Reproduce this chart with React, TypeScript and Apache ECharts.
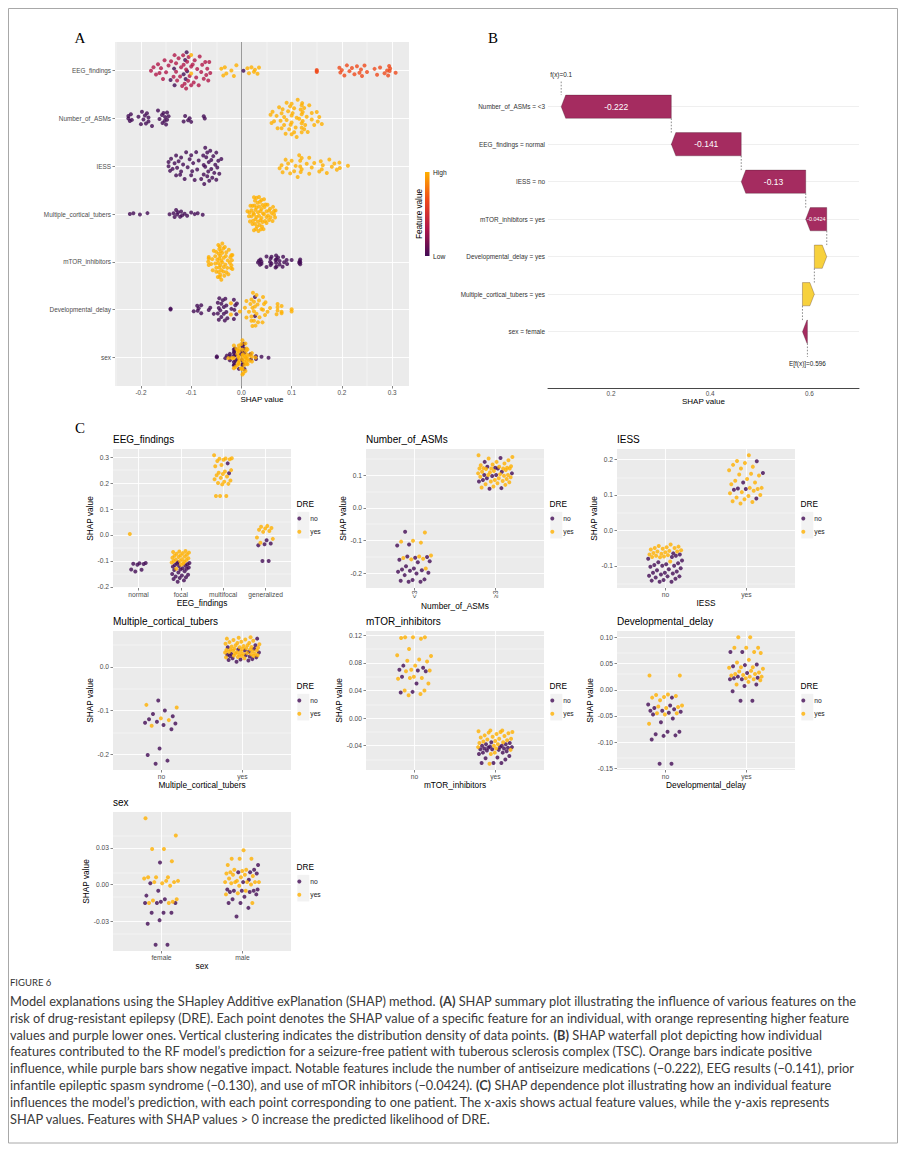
import React, { useEffect, useRef } from "react";
import * as echarts from "echarts";

// ================= DATA =================
// SHAP values per feature level, split by DRE outcome (no / yes)
const eegLevels = ["normal", "focal", "multifocal", "generalized"];
const eegNormalNo = [-0.108, -0.109, -0.111, -0.112, -0.115, -0.133, -0.134, -0.141];
const eegNormalYes = [0.004];
const eegFocalNo = [-0.105, -0.108, -0.11, -0.113, -0.116, -0.118, -0.12, -0.122, -0.125, -0.128, -0.13, -0.133, -0.135, -0.14, -0.145, -0.15, -0.153, -0.156, -0.16, -0.163, -0.166, -0.17, -0.175, -0.18];
const eegFocalYes = [-0.062, -0.064, -0.066, -0.068, -0.07, -0.072, -0.075, -0.078, -0.08, -0.083, -0.085, -0.088, -0.09, -0.093, -0.095, -0.097, -0.1, -0.1, -0.103, -0.106, -0.11, -0.115, -0.13];
const eegMultifocalNo = [0.276, 0.238];
const eegMultifocalYes = [0.307, 0.296, 0.295, 0.294, 0.292, 0.29, 0.285, 0.27, 0.265, 0.25, 0.245, 0.24, 0.235, 0.23, 0.225, 0.22, 0.215, 0.21, 0.205, 0.2, 0.197, 0.195, 0.15, 0.15, 0.15];
const eegGeneralizedNo = [-0.02, -0.033, -0.036, -0.04, -0.1, -0.1];
const eegGeneralizedYes = [0.035, 0.032, 0.027, 0.025, 0.02, 0.015, 0.012, -0.01, -0.015, -0.03];

const asmLevels = ["<3", "≥3"];
const asmLowNo = [-0.073, -0.112, -0.115, -0.148, -0.15, -0.152, -0.158, -0.163, -0.166, -0.178, -0.185, -0.188, -0.19, -0.192, -0.195, -0.198, -0.2, -0.205, -0.218, -0.22, -0.222, -0.225, -0.225];
const asmLowYes = [-0.075, -0.1, -0.103, -0.106, -0.145, -0.148, -0.153, -0.155, -0.157, -0.185];
const asmHighNo = [0.152, 0.14, 0.125, 0.122, 0.12, 0.11, 0.105, 0.1, 0.1, 0.097, 0.09, 0.085, 0.08, 0.06, 0.058];
const asmHighYes = [0.16, 0.155, 0.15, 0.145, 0.14, 0.135, 0.132, 0.13, 0.127, 0.125, 0.122, 0.121, 0.12, 0.12, 0.12, 0.12, 0.118, 0.115, 0.112, 0.11, 0.108, 0.105, 0.102, 0.1, 0.1, 0.098, 0.095, 0.093, 0.09, 0.088, 0.085, 0.082, 0.08, 0.078, 0.075, 0.072, 0.07, 0.065, 0.062];

const iessLevels = ["no", "yes"];
const iessNoNo = [-0.065, -0.068, -0.072, -0.075, -0.08, -0.085, -0.09, -0.093, -0.096, -0.098, -0.1, -0.1, -0.103, -0.107, -0.11, -0.113, -0.116, -0.12, -0.12, -0.122, -0.125, -0.128, -0.13, -0.13, -0.133, -0.137, -0.14, -0.142, -0.145, -0.145];
const iessNoYes = [-0.04, -0.044, -0.046, -0.048, -0.05, -0.05, -0.052, -0.054, -0.056, -0.058, -0.06, -0.06, -0.062, -0.064, -0.066, -0.068, -0.07, -0.072, -0.074, -0.075, -0.076, -0.088];
const iessYesNo = [0.195, 0.162, 0.135, 0.118, 0.117, 0.115, 0.09];
const iessYesYes = [0.212, 0.196, 0.19, 0.185, 0.18, 0.175, 0.17, 0.16, 0.158, 0.155, 0.145, 0.14, 0.135, 0.13, 0.12, 0.12, 0.117, 0.112, 0.108, 0.105, 0.1, 0.097, 0.093, 0.088, 0.082, 0.08, 0.076];

const tubersLevels = ["no", "yes"];
const tubersNoNo = [-0.077, -0.1, -0.108, -0.113, -0.12, -0.126, -0.128, -0.13, -0.133, -0.143, -0.187, -0.202, -0.215, -0.222];
const tubersNoYes = [-0.087, -0.093, -0.118, -0.122, -0.135];
const tubersYesNo = [0.065, 0.05, 0.045, 0.042, 0.04, 0.038, 0.035, 0.033, 0.03, 0.028, 0.027, 0.025, 0.024, 0.022, 0.02, 0.018, 0.017, 0.016, 0.015, 0.012];
const tubersYesYes = [0.068, 0.067, 0.065, 0.063, 0.062, 0.06, 0.058, 0.057, 0.055, 0.055, 0.053, 0.052, 0.05, 0.05, 0.048, 0.047, 0.046, 0.045, 0.044, 0.043, 0.042, 0.041, 0.04, 0.04, 0.039, 0.038, 0.037, 0.036, 0.035, 0.035, 0.034, 0.033, 0.032, 0.031, 0.03, 0.03, 0.029, 0.028, 0.027, 0.026, 0.025, 0.025, 0.023, 0.022, 0.02];

const mtorLevels = ["no", "yes"];
const mtorNoNo = [0.076, 0.073, 0.07, 0.069, 0.068, 0.06, 0.05, 0.038, 0.037];
const mtorNoYes = [0.117, 0.117, 0.117, 0.116, 0.115, 0.1, 0.091, 0.09, 0.085, 0.083, 0.082, 0.076, 0.07, 0.069, 0.068, 0.06, 0.058, 0.058, 0.057, 0.05, 0.04, 0.04, 0.035, 0.033];
const mtorYesNo = [-0.035, -0.036, -0.038, -0.038, -0.04, -0.04, -0.041, -0.042, -0.042, -0.043, -0.043, -0.044, -0.044, -0.045, -0.045, -0.046, -0.047, -0.048, -0.05, -0.05, -0.052, -0.055, -0.057, -0.058, -0.06, -0.065, -0.065, -0.065];
const mtorYesYes = [-0.018, -0.018, -0.019, -0.02, -0.02, -0.021, -0.022, -0.023, -0.025, -0.026, -0.027, -0.028, -0.03, -0.03, -0.031, -0.032, -0.033, -0.034, -0.035, -0.036, -0.038, -0.04, -0.042, -0.044, -0.046, -0.05, -0.052, -0.066];

const devLevels = ["no", "yes"];
const devNoNo = [-0.015, -0.028, -0.03, -0.035, -0.037, -0.04, -0.04, -0.042, -0.044, -0.047, -0.055, -0.062, -0.08, -0.08, -0.085, -0.087, -0.088, -0.095, -0.141, -0.141];
const devNoYes = [0.027, 0.027, -0.009, -0.01, -0.012, -0.014, -0.015, -0.02, -0.03, -0.032, -0.033, -0.035, -0.045, -0.045, -0.047, -0.065];
const devYesNo = [0.072, 0.072, 0.048, 0.047, 0.045, 0.032, 0.025, 0.023, 0.022, 0.02, 0.02, 0.01, 0.007, -0.003, -0.021, -0.021];
const devYesYes = [0.1, 0.1, 0.08, 0.08, 0.08, 0.072, 0.07, 0.057, 0.052, 0.043, 0.043, 0.042, 0.04, 0.036, 0.035, 0.033, 0.03, 0.03, 0.028, 0.027, 0.025, 0.025, 0.022, 0.02, 0.018, 0.015, 0.01];

const sexLevels = ["female", "male"];
const sexFemaleNo = [0.018, 0.001, -0.005, -0.009, -0.012, -0.014, -0.015, -0.015, -0.015, -0.023, -0.023, -0.023, -0.029, -0.032, -0.049, -0.049];
const sexFemaleYes = [0.054, 0.04, 0.029, 0.029, 0.019, 0.006, 0.006, 0.006, 0.005, 0.003, 0.003, 0.002, 0.002, 0.001, -0.001, -0.012, -0.013, -0.014, -0.015, -0.015];
const sexMaleNo = [0.016, 0.012, 0.01, 0.01, 0.009, 0.004, 0.002, -0.004, -0.004, -0.005, -0.005, -0.005, -0.006, -0.006, -0.008, -0.01, -0.012, -0.015, -0.015, -0.019, -0.026];
const sexMaleYes = [0.028, 0.021, 0.021, 0.021, 0.016, 0.012, 0.012, 0.011, 0.01, 0.009, 0.008, 0.008, 0.007, 0.006, 0.005, 0.003, 0.002, 0.002, 0.002, 0.002, 0.002, 0.001, 0.0, -0.001, -0.005, -0.007, -0.008, -0.015];

// tick values
const summaryTicks = [-0.2, -0.1, 0, 0.1, 0.2, 0.3];
const eegTicks = [-0.2, -0.1, 0, 0.1, 0.2, 0.3];
const asmTicks = [-0.2, -0.1, 0, 0.1];
const iessTicks = [-0.1, 0, 0.1, 0.2];
const tubersTicks = [-0.2, -0.1, 0];
const mtorTicks = [-0.04, 0, 0.04, 0.08, 0.12];
const devTicks = [-0.15, -0.1, -0.05, 0, 0.05, 0.1];
const sexTicks = [-0.03, 0, 0.03];

// waterfall (panel B)
const wfFeatures = ["Number_of_ASMs = <3", "EEG_findings = normal", "IESS = no", "mTOR_inhibitors = yes", "Developmental_delay = yes", "Multiple_cortical_tubers = yes", "sex = female"];
const wfShap = [-0.222, -0.141, -0.13, -0.0424, 0.025, 0.024, -0.01];
const wfBaseline = 0.596;
const wfPrediction = 0.1;
const wfTicks = [0.2, 0.4, 0.6];

const captionLabel = "FIGURE 6";
const captionLines = [
  "Model explanations using the SHapley Additive exPlanation (SHAP) method. {b|(A)} SHAP summary plot illustrating the influence of various features on the",
  "risk of drug-resistant epilepsy (DRE). Each point denotes the SHAP value of a specific feature for an individual, with orange representing higher feature",
  "values and purple lower ones. Vertical clustering indicates the distribution density of data points. {b|(B)} SHAP waterfall plot depicting how individual",
  "features contributed to the RF model’s prediction for a seizure-free patient with tuberous sclerosis complex (TSC). Orange bars indicate positive",
  "influence, while purple bars show negative impact. Notable features include the number of antiseizure medications (−0.222), EEG results (−0.141), prior",
  "infantile epileptic spasm syndrome (−0.130), and use of mTOR inhibitors (−0.0424). {b|(C)} SHAP dependence plot illustrating how an individual feature",
  "influences the model’s prediction, with each point corresponding to one patient. The x-axis shows actual feature values, while the y-axis represents",
  "SHAP values. Features with SHAP values > 0 increase the predicted likelihood of DRE.",
];

const cPanels = [
  { title: "EEG_findings", levels: eegLevels, no: [eegNormalNo, eegFocalNo, eegMultifocalNo, eegGeneralizedNo], yes: [eegNormalYes, eegFocalYes, eegMultifocalYes, eegGeneralizedYes], ticks: eegTicks, decimals: 1, rotate: 0 },
  { title: "Number_of_ASMs", levels: asmLevels, no: [asmLowNo, asmHighNo], yes: [asmLowYes, asmHighYes], ticks: asmTicks, decimals: 1, rotate: 90 },
  { title: "IESS", levels: iessLevels, no: [iessNoNo, iessYesNo], yes: [iessNoYes, iessYesYes], ticks: iessTicks, decimals: 1, rotate: 0 },
  { title: "Multiple_cortical_tubers", levels: tubersLevels, no: [tubersNoNo, tubersYesNo], yes: [tubersNoYes, tubersYesYes], ticks: tubersTicks, decimals: 1, rotate: 0 },
  { title: "mTOR_inhibitors", levels: mtorLevels, no: [mtorNoNo, mtorYesNo], yes: [mtorNoYes, mtorYesYes], ticks: mtorTicks, decimals: 2, rotate: 0 },
  { title: "Developmental_delay", levels: devLevels, no: [devNoNo, devYesNo], yes: [devNoYes, devYesYes], ticks: devTicks, decimals: 2, rotate: 0 },
  { title: "sex", levels: sexLevels, no: [sexFemaleNo, sexMaleNo], yes: [sexFemaleYes, sexMaleYes], ticks: sexTicks, decimals: 2, rotate: 0 },
];

// ================= STYLE / LAYOUT =================
const FONT = "Liberation Sans";
const PANEL_BG = "#EBEBEB";
const NO_COLOR = "#420B55";
const YES_COLOR = "#FFB000";
const GRAD = ["#420B55", "#B1184A", "#EF4A1C", "#FFB000"];
const NEG_COLOR = "#A52C60";
const POS_COLOR = "#F7D13D";

const A_GRID = { left: 115, top: 42, width: 294, height: 344 };
const B_GRID = { left: 548, top: 69.2, width: 311, height: 318.75 };
const C_COLS = [113, 366, 617];
const C_ROWS = [449, 631, 812];
const C_W = 178;
const C_H = 139;

// ================= HELPERS =================
function halton(i: number, base: number): number {
  let f = 1, r = 0;
  while (i > 0) { f /= base; r += f * (i % base); i = Math.floor(i / base); }
  return r;
}
function ranks(values: number[]): number[] {
  const order = values.map((v, i) => [v, i]).sort((p, q) => p[0] - q[0] || p[1] - q[1]);
  const r = new Array(values.length);
  order.forEach((o, k) => { r[o[1]] = k + 1; });
  return r;
}
// shapviz-style bee swarm: halton sequence x normalized kernel density
function beeOffsets(values: number[], width: number, adjust: number): number[] {
  const n = values.length;
  if (n < 2) return values.map(() => 0);
  const mean = values.reduce((a, b) => a + b, 0) / n;
  const sd = Math.sqrt(values.reduce((a, b) => a + (b - mean) * (b - mean), 0) / (n - 1));
  const s = [...values].sort((a, b) => a - b);
  const q = (p: number) => { const h = (n - 1) * p; const lo = Math.floor(h); return s[lo] + (h - lo) * (s[Math.min(lo + 1, n - 1)] - s[lo]); };
  let lo = Math.min(sd, (q(0.75) - q(0.25)) / 1.34);
  if (!(lo > 0)) lo = sd || 0.01;
  const bw = 0.9 * lo * Math.pow(n, -0.2) * adjust;
  const dens = (x: number) => values.reduce((acc, v) => acc + Math.exp(-0.5 * ((x - v) / bw) ** 2), 0);
  let maxD = 0;
  const a = s[0] - 3 * bw, b = s[n - 1] + 3 * bw;
  for (let i = 0; i < 512; i++) maxD = Math.max(maxD, dens(a + ((b - a) * i) / 511));
  const rk = ranks(values);
  return values.map((v, i) => 2 * (halton(rk[i], 2) - 0.5) * (dens(v) / maxD) * width);
}
function jitterOffsets(values: number[], width: number): number[] {
  const rk = ranks(values);
  return values.map((_, i) => 2 * (halton(rk[i], 3) - 0.5) * width);
}
function minorBreaks(ticks: number[], lo: number, hi: number): number[] {
  const st = ticks[1] - ticks[0];
  const out: number[] = [];
  for (let k = -1; k < ticks.length; k++) {
    const v = +(ticks[0] + st * (k + 0.5)).toFixed(6);
    if (v > lo && v < hi) out.push(v);
  }
  return out;
}
function fmtShap(v: number): string { return String(Number(v.toPrecision(3))); }
function range(n: number): number[] { return Array.from({ length: n }, (_, i) => i + 1); }

// ================= OPTION =================
function buildOption() {
  const grids: any[] = [], xAxes: any[] = [], yAxes: any[] = [], series: any[] = [];
  const titles: any[] = [], legends: any[] = [], g: any[] = [];
  const tick = { show: true, length: 2.5, lineStyle: { color: "#333333", width: 0.6 } };
  const noLine = { show: false, onZero: false };
  const lab = { fontSize: 6.4, color: "#4D4D4D", fontFamily: FONT };
  const white = { show: true, lineStyle: { color: "#FFFFFF", width: 0.9, type: "solid" } };
  const markBase = { silent: true, z: 1, symbol: ["none", "none"], label: { show: false }, emphasis: { disabled: true }, animation: false };

  // ---------- Panel A ----------
  const allA: number[] = [];
  cPanels.forEach((p) => p.no.concat(p.yes).forEach((arr) => allA.push(...arr)));
  const aLo = Math.min(...allA), aHi = Math.max(...allA), aPad = (aHi - aLo) * 0.05;
  const aMin = aLo - aPad, aMax = aHi + aPad;
  const aData: number[][] = [];
  cPanels.forEach((p, r) => {
    const vals: number[] = [], codes: number[] = [];
    p.levels.forEach((_, l) => {
      const code = l / (p.levels.length - 1);
      [...p.no[l], ...p.yes[l]].forEach((v) => { vals.push(v); codes.push(code); });
    });
    const off = beeOffsets(vals, 0.4, 0.5);
    vals.forEach((v, i) => aData.push([v, r + 1 + off[i], codes[i]]));
  });
  grids.push({ ...A_GRID, show: true, backgroundColor: PANEL_BG, borderWidth: 0, outerBoundsMode: "none" });
  xAxes.push({
    type: "value", gridIndex: 0, min: aMin, max: aMax,
    axisLine: noLine, axisTick: { ...tick, customValues: summaryTicks },
    axisLabel: { ...lab, margin: 3, customValues: summaryTicks, formatter: (v: number) => v.toFixed(1) },
    splitLine: white,
    name: "SHAP value", nameLocation: "middle", nameGap: 9.5, nameTextStyle: { fontSize: 8, color: "#000", fontFamily: FONT },
  });
  yAxes.push({
    type: "value", gridIndex: 0, inverse: true, min: 0.4, max: cPanels.length + 0.6,
    axisLine: noLine, axisTick: { ...tick, customValues: range(cPanels.length) },
    axisLabel: { ...lab, margin: 4, customValues: range(cPanels.length), formatter: (v: number) => cPanels[Math.round(v) - 1].title },
    splitLine: white,
  });
  series.push({
    type: "scatter", xAxisIndex: 0, yAxisIndex: 0, data: [], silent: true,
    markLine: {
      ...markBase, lineStyle: { color: "#FFFFFF", width: 0.45, type: "solid" },
      data: [...minorBreaks(summaryTicks, aMin, aMax).map((v) => ({ xAxis: v })), { xAxis: 0, lineStyle: { color: "#8E8E8E", width: 0.9, type: "solid" } }],
    },
  });
  series.push({ type: "scatter", name: "SHAP summary", xAxisIndex: 0, yAxisIndex: 0, z: 3, symbolSize: 4, data: aData, silent: true });

  // ---------- Panel B ----------
  const n = wfShap.length;
  const wfData: number[][] = new Array(n);
  let cur = wfBaseline;
  for (let i = n - 1; i >= 0; i--) { wfData[i] = [i + 1, cur, cur + wfShap[i], wfShap[i]]; cur += wfShap[i]; }
  grids.push({ ...B_GRID, show: false, outerBoundsMode: "none" });
  xAxes.push({
    type: "value", gridIndex: 1, min: 0.073, max: 0.7, position: "bottom",
    axisLine: { show: true, onZero: false, lineStyle: { color: "#333333", width: 0.9 } },
    axisTick: { show: false, customValues: wfTicks },
    axisLabel: { ...lab, margin: 2.5, customValues: wfTicks, formatter: (v: number) => v.toFixed(1) },
    splitLine: { show: false },
    name: "SHAP value", nameLocation: "middle", nameGap: 9, nameTextStyle: { fontSize: 8, color: "#000", fontFamily: FONT },
  });
  yAxes.push({
    type: "value", gridIndex: 1, inverse: true, min: 0, max: 8.5,
    axisLine: noLine, axisTick: { show: false, customValues: range(n) },
    axisLabel: { ...lab, color: "#333333", margin: 3, customValues: range(n), formatter: (v: number) => wfFeatures[Math.round(v) - 1] },
    splitLine: { show: true, lineStyle: { color: "#EBEBEB", width: 0.8 } },
  });
  const dash = { stroke: "#6E6E6E", lineWidth: 0.8, lineDash: [1.6, 1.6] };
  const smallTxt = { fontSize: 6.4, fontFamily: FONT, fill: "#222", align: "center", verticalAlign: "middle" };
  series.push({
    type: "custom", xAxisIndex: 1, yAxisIndex: 1, z: 3, clip: false, silent: true,
    dimensions: ["p", "from", "to", "shap"], encode: { x: [1, 2], y: 0 },
    data: wfData,
    renderItem: (params: any, api: any) => {
      const p = api.value(0), from = api.value(1), to = api.value(2), v = api.value(3);
      const a = api.coord([from, p]), b = api.coord([to, p]);
      const h = api.size([0, 0.62])[1] / 2;
      const y = a[1];
      const dir = to >= from ? 1 : -1;
      const len = Math.abs(b[0] - a[0]);
      const tip = Math.min(4.5, len);
      const pts = [[a[0], y - h], [b[0] - dir * tip, y - h], [b[0], y], [b[0] - dir * tip, y + h], [a[0], y + h]];
      const children: any[] = [
        { type: "polygon", shape: { points: pts }, style: { fill: v < 0 ? NEG_COLOR : POS_COLOR, stroke: "rgba(50,20,30,0.55)", lineWidth: 0.5 } },
      ];
      if (Math.abs(v) >= 0.04) {
        children.push({ type: "text", x: (a[0] + b[0]) / 2, y, style: { text: fmtShap(v), fill: "#FFFFFF", fontSize: len > 40 ? 8.5 : 5.4, fontFamily: FONT, align: "center", verticalAlign: "middle" } });
      }
      const yBelow = p < n ? api.coord([from, p + 1])[1] - h : api.coord([from, p + 0.675])[1];
      children.push({ type: "line", shape: { x1: a[0], y1: y + h, x2: a[0], y2: yBelow }, style: dash });
      if (p === n) {
        children.push({ type: "text", x: a[0], y: api.coord([from, p + 0.84])[1], style: { ...smallTxt, text: "E[f(x)]=" + wfBaseline } });
      }
      if (p === 1) {
        children.push({ type: "line", shape: { x1: b[0], y1: api.coord([to, 0.33])[1], x2: b[0], y2: y - h }, style: dash });
        children.push({ type: "text", x: b[0], y: api.coord([to, 0.136])[1], style: { ...smallTxt, text: "f(x)=" + wfPrediction } });
      }
      return { type: "group", children };
    },
  });

  // ---------- Panel C ----------
  cPanels.forEach((p, k) => {
    const gi = k + 2;
    const left = C_COLS[k % 3], top = C_ROWS[Math.floor(k / 3)];
    const right = left + C_W, mid = top + C_H / 2;
    const all: number[] = [];
    p.no.concat(p.yes).forEach((arr) => all.push(...arr));
    const lo = Math.min(...all), hi = Math.max(...all), pad = (hi - lo) * 0.05;
    const yMin = lo - pad, yMax = hi + pad;
    const noPts: number[][] = [], yesPts: number[][] = [];
    p.levels.forEach((_, l) => {
      const comb = [...p.no[l], ...p.yes[l]];
      const off = jitterOffsets(comb, 0.22);
      comb.forEach((v, i) => (i < p.no[l].length ? noPts : yesPts).push([l + 1 + off[i], v]));
    });
    const cats = range(p.levels.length);
    grids.push({ left, top, width: C_W, height: C_H, show: true, backgroundColor: PANEL_BG, borderWidth: 0, outerBoundsMode: "none" });
    xAxes.push({
      type: "value", gridIndex: gi, min: 0.4, max: p.levels.length + 0.6, position: "bottom",
      axisLine: noLine, axisTick: { ...tick, customValues: cats },
      axisLabel: { ...lab, fontSize: 6.7, margin: 2.5, rotate: p.rotate, customValues: cats, formatter: (v: number) => p.levels[Math.round(v) - 1] },
      splitLine: white,
      name: p.title, nameLocation: "middle", nameGap: 11, nameTextStyle: { fontSize: 8.3, color: "#000", fontFamily: FONT },
    });
    yAxes.push({
      type: "value", gridIndex: gi, min: yMin, max: yMax, position: "left",
      axisLine: noLine, axisTick: { ...tick, customValues: p.ticks },
      axisLabel: { ...lab, fontSize: 6.7, margin: 4, customValues: p.ticks, formatter: (v: number) => v.toFixed(p.decimals) },
      splitLine: white,
      name: "SHAP value", nameLocation: "middle", nameGap: p.decimals === 1 ? 19.5 : 23.5, nameTextStyle: { fontSize: 8.3, color: "#000", fontFamily: FONT },
    });
    series.push({
      type: "scatter", xAxisIndex: gi, yAxisIndex: gi, data: [], silent: true,
      markLine: { ...markBase, lineStyle: { color: "#FFFFFF", width: 0.45, type: "solid" }, data: minorBreaks(p.ticks, yMin, yMax).map((v) => ({ yAxis: v })) },
    });
    series.push({ type: "scatter", name: "no", xAxisIndex: gi, yAxisIndex: gi, z: 3, symbolSize: 4, itemStyle: { color: NO_COLOR }, data: noPts, silent: true });
    series.push({ type: "scatter", name: "yes", xAxisIndex: gi, yAxisIndex: gi, z: 3, symbolSize: 4, itemStyle: { color: YES_COLOR }, data: yesPts, silent: true });
    titles.push({ text: p.title, left, top: top - 15, padding: 0, textStyle: { fontSize: 10, fontWeight: "normal", color: "#000", fontFamily: FONT } });
    legends.push({
      left: right + 6.3, top: mid - 5, orient: "vertical", padding: 0, selectedMode: false,
      itemWidth: 12, itemHeight: 4, itemGap: 3.3,
      data: [{ name: "no", icon: "circle" }, { name: "yes", icon: "circle" }],
      textStyle: { fontSize: 6.7, color: "#222", lineHeight: 10, fontFamily: FONT },
    });
    g.push({ type: "rect", z: 0, shape: { x: right + 6.3, y: mid - 6.65, width: 12, height: 26.6 }, style: { fill: "#F2F2F2" } });
    g.push({ type: "text", x: right + 5.5, y: mid - 14.5, style: { text: "DRE", fontSize: 8.3, fontFamily: FONT, fill: "#000", align: "left", verticalAlign: "middle" } });
  });

  // ---------- Decorations ----------
  g.push({ type: "rect", shape: { x: 8.5, y: 8.5, width: 889, height: 1134.5 }, style: { fill: "none", stroke: "#A8A8A8", lineWidth: 1 } });
  const letter = (t: string, x: number, y: number) => ({ type: "text", x, y, style: { text: t, fontSize: 15, fontFamily: "Liberation Serif", fill: "#000", align: "center", verticalAlign: "middle" } });
  g.push(letter("A", 80, 38), letter("B", 493, 38), letter("C", 80, 428));
  g.push({
    type: "rect", shape: { x: 425, y: 172, width: 4.5, height: 84 },
    style: { fill: { type: "linear", x: 0, y: 1, x2: 0, y2: 0, colorStops: GRAD.map((c, i) => ({ offset: i / (GRAD.length - 1), color: c })) } },
  });
  const legTxt = { fontSize: 6.7, fontFamily: FONT, fill: "#222", align: "left", verticalAlign: "middle" };
  g.push({ type: "text", x: 433, y: 172, style: { ...legTxt, text: "High" } });
  g.push({ type: "text", x: 433, y: 256, style: { ...legTxt, text: "Low" } });
  g.push({ type: "text", x: 419, y: 214, rotation: Math.PI / 2, style: { text: "Feature value", fontSize: 8.2, fontFamily: FONT, fill: "#000", align: "center", verticalAlign: "middle" } });
  g.push({ type: "text", x: 10, y: 982, style: { text: captionLabel, fontSize: 9.5, fontFamily: "Lato", fill: "#333", align: "left", verticalAlign: "middle" } });
  captionLines.forEach((line, i) => {
    g.push({
      type: "text", x: 10, y: 1001 + i * 16.8,
      style: { text: line, fontSize: 12.8, fontFamily: "Lato", fill: "#3A3A3A", align: "left", verticalAlign: "middle", rich: { b: { fontSize: 12.8, fontFamily: "Lato", fontWeight: "bold", fill: "#3A3A3A" } } },
    });
  });

  return {
    animation: false,
    textStyle: { fontFamily: FONT },
    grid: grids, xAxis: xAxes, yAxis: yAxes, series, title: titles, legend: legends,
    visualMap: [{ type: "continuous", show: false, dimension: 2, min: 0, max: 1, seriesIndex: 1, inRange: { color: GRAD } }],
    graphic: { elements: g },
  };
}

export default function App() {
  const ref = useRef<HTMLDivElement>(null);
  useEffect(() => {
    if (!ref.current) return;
    const chart = echarts.init(ref.current, null, { renderer: "svg" });
    chart.setOption(buildOption() as any);
    return () => chart.dispose();
  }, []);
  return <div ref={ref} style={{ position: "absolute", left: 0, top: 0, width: 906, height: 1150 }} />;
}
